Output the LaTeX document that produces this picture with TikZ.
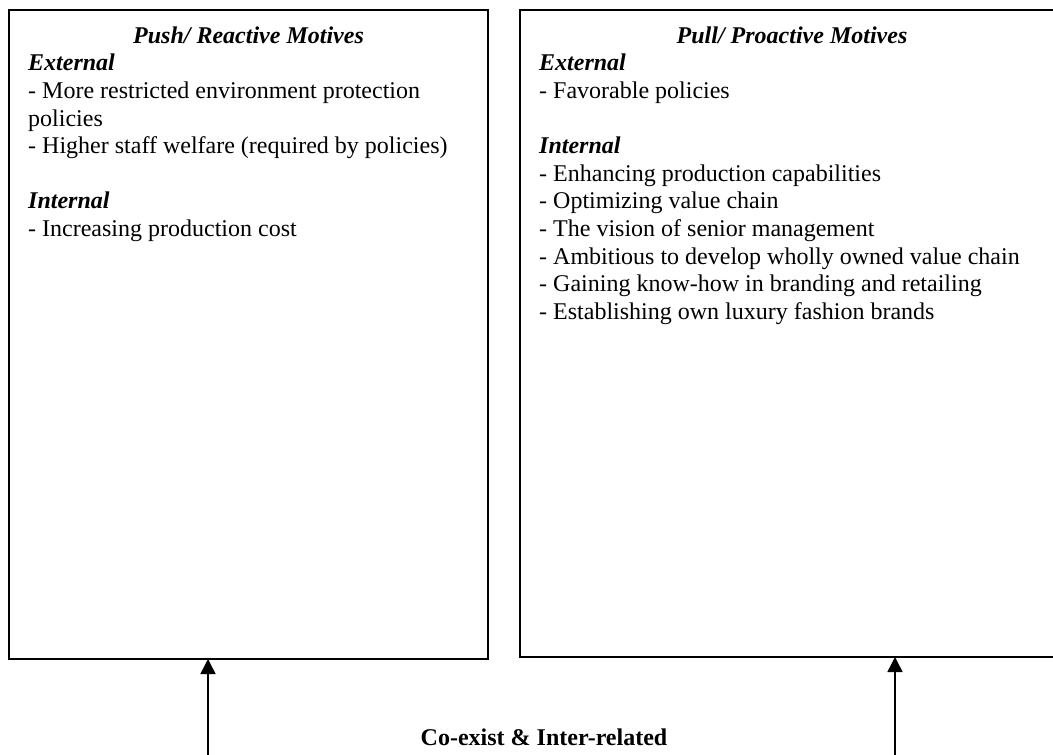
\documentclass[tikz,border=0pt]{standalone}
\usepackage{fontspec}
\setmainfont{Liberation Serif}
\usetikzlibrary{arrows.meta}

\begin{document}
\begin{tikzpicture}[x=1pt,y=1pt,
    boite/.style={draw, line width=1.5pt, anchor=north west, inner sep=0pt, outer sep=0pt},
    titre/.style={anchor=base, font=\fontsize{24}{27.6}\selectfont\bfseries\itshape},
    corps/.style={anchor=north west, align=left, inner sep=0pt, font=\fontsize{24}{27.6}\selectfont},
    fleche/.style={line width=1.5pt, -{Triangle[length=15pt,width=15pt]}}]
    \useasboundingbox (0,0) rectangle (1053,-755);

    % Cadre gauche : motifs reactifs
    \node[boite, minimum width=479pt, minimum height=649pt] (pousse) at (9,-10) {};
    \node[titre] (poussetitre) at (pousse.north |- 0,-43) {Push/ Reactive Motives};
    \node[corps] (poussetexte) at (28,-54) {\textbf{\textit{External}}\\
        - More restricted environment protection\\
        policies\\
        - Higher staff welfare (required by policies)\\[27.6pt]
        \textbf{\textit{Internal}}\\
        - Increasing production cost};

    % Cadre droit : motifs proactifs
    \node[boite, minimum width=544pt, minimum height=647pt] (tire) at (520,-10) {};
    \node[titre] (tiretitre) at (tire.north |- 0,-43) {Pull/ Proactive Motives};
    \node[corps] (tiretexte) at (539,-54) {\textbf{\textit{External}}\\
        - Favorable policies\\[27.6pt]
        \textbf{\textit{Internal}}\\
        - Enhancing production capabilities\\
        - Optimizing value chain\\
        - The vision of senior management\\
        - Ambitious to develop wholly owned value chain\\
        - Gaining know-how in branding and retailing\\
        - Establishing own luxury fashion brands};

    % Fleches vers les deux cadres
    \coordinate (basgauche) at (208,-756);
    \coordinate (basdroit) at (895,-756);
    \draw[fleche] (basgauche) -- (basgauche |- pousse.south);
    \draw[fleche] (basdroit) -- (basdroit |- tire.south);

    % Legende
    \node[anchor=base, font=\fontsize{24}{27.6}\selectfont\bfseries] (lien) at (544,-745) {Co-exist \& Inter-related};
\end{tikzpicture}
\end{document}
